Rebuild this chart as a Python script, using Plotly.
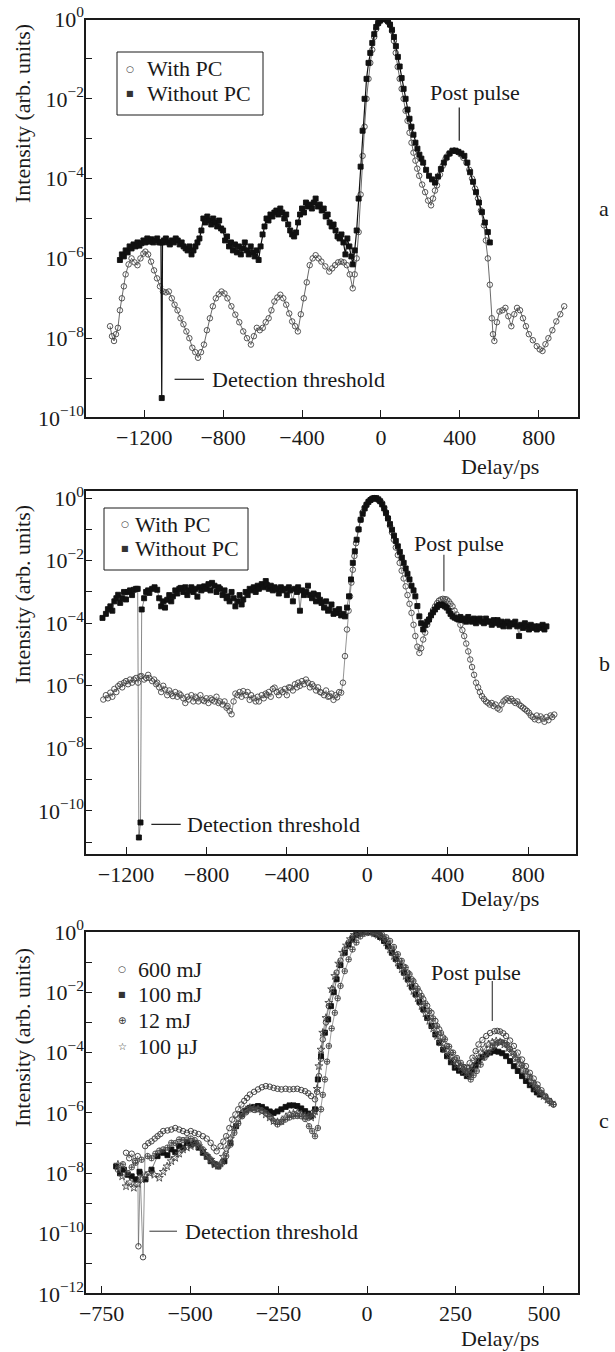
import plotly.graph_objects as go

# ---------------- data (delay in ps, intensity as log10 exponent) ----------------
a_with_x = [-1373,-1363,-1353,-1343,-1333,-1323,-1313,-1303,-1294,-1279,-1264,-1249,-1234,-1219,-1204,-1194,-1180,-1165,-1150,-1135,-1120,-1105,-1090,-1075,-1060,-1046,-1031,-1016,-1001,-986,-971,-956,-941,-927,-912,-897,-882,-867,-852,-837,-822,-808,-793,-778,-758,-738,-718,-698,-679,-659,-644,-629,-614,-599,-584,-569,-555,-540,-525,-510,-495,-480,-465,-450,-435,-421,-406,-391,-376,-361,-346,-331,-316,-302,-282,-262,-247,-232,-217,-202,-188,-173,-158,-143,-133,-123,-113,-103,-93,-83,-73,-63,-54,-44,-34,-24,-14,-4,6,16,26,36,46,56,66,75,85,95,105,115,125,135,145,155,165,175,184,194,209,224,239,254,264,274,284,299,313,328,343,358,373,388,403,418,433,448,462,477,492,507,522,532,542,552,562,568,575,588,601,616,631,646,661,676,690,705,720,735,750,770,790,805,819,834,849,869,889,909,929]
a_with_log = [-7.7,-7.95,-8.07,-7.9,-7.74,-7.3,-7.0,-6.7,-6.4,-6.15,-6.0,-6.1,-6.17,-6.0,-5.88,-5.83,-5.9,-6.08,-6.3,-6.5,-6.7,-6.83,-6.85,-6.83,-7.0,-7.16,-7.3,-7.5,-7.65,-7.83,-8.0,-8.24,-8.35,-8.49,-8.35,-8.16,-7.8,-7.5,-7.2,-7.0,-6.9,-6.83,-6.88,-7.0,-7.2,-7.41,-7.6,-7.83,-8.0,-8.16,-7.95,-7.74,-7.8,-7.74,-7.6,-7.5,-7.3,-7.08,-6.98,-6.91,-7.0,-7.16,-7.38,-7.58,-7.7,-7.83,-7.4,-7.0,-6.6,-6.17,-6.0,-5.92,-6.0,-6.08,-6.2,-6.33,-6.25,-6.17,-6.1,-6.08,-6.1,-6.17,-6.4,-6.75,-6.4,-6.0,-5.34,-4.4,-3.43,-2.7,-2.0,-1.5,-1.1,-0.77,-0.45,-0.25,-0.12,-0.04,0.0,0.0,-0.03,-0.08,-0.15,-0.3,-0.55,-0.85,-1.2,-1.5,-1.75,-2.0,-2.3,-2.55,-2.85,-3.1,-3.35,-3.55,-3.75,-3.93,-4.15,-4.34,-4.55,-4.67,-4.5,-4.3,-4.17,-3.9,-3.68,-3.5,-3.39,-3.32,-3.3,-3.32,-3.39,-3.48,-3.6,-3.78,-4.0,-4.25,-4.5,-4.8,-5.17,-5.55,-6.0,-6.66,-7.5,-7.9,-8.07,-7.6,-7.33,-7.3,-7.24,-7.45,-7.7,-7.4,-7.24,-7.3,-7.5,-7.7,-7.9,-8.05,-8.2,-8.28,-8.32,-8.15,-8.0,-7.8,-7.58,-7.4,-7.2]

a_without_x = [-1323,-1313,-1303,-1294,-1284,-1274,-1264,-1254,-1244,-1234,-1224,-1214,-1204,-1194,-1184,-1174,-1164,-1154,-1144,-1134,-1124,-1115,-1111,-1107,-1100,-1090,-1080,-1070,-1060,-1050,-1040,-1030,-1020,-1010,-1000,-990,-980,-970,-960,-950,-940,-930,-920,-910,-900,-890,-880,-870,-860,-850,-840,-830,-820,-810,-800,-790,-780,-770,-760,-750,-740,-730,-720,-710,-700,-690,-680,-670,-660,-650,-640,-630,-620,-610,-600,-590,-580,-570,-560,-550,-540,-530,-520,-510,-500,-490,-480,-470,-460,-450,-440,-430,-420,-410,-400,-390,-380,-370,-360,-350,-340,-331,-320,-310,-300,-290,-280,-270,-260,-250,-240,-230,-220,-210,-200,-190,-180,-170,-160,-150,-143,-133,-123,-113,-103,-93,-83,-73,-63,-54,-44,-34,-24,-14,-4,6,16,26,36,46,56,66,76,86,95,105,115,125,135,145,155,165,175,185,195,205,214,229,244,259,274,289,304,319,333,348,363,378,393,408,423,438,452,467,482,497,512,527,542,552]
a_without_log = [-6.04,-5.9,-5.95,-5.8,-5.85,-5.7,-5.75,-5.65,-5.7,-5.6,-5.68,-5.62,-5.55,-5.6,-5.5,-5.58,-5.52,-5.6,-5.55,-5.5,-5.6,-5.6,-9.5,-5.6,-5.55,-5.5,-5.6,-5.65,-5.55,-5.6,-5.5,-5.55,-5.65,-5.6,-5.7,-5.75,-5.8,-5.7,-5.9,-5.8,-5.7,-5.6,-5.5,-5.3,-5.0,-5.1,-4.95,-5.05,-5.15,-5.0,-5.1,-5.2,-5.05,-5.25,-5.3,-5.55,-5.45,-5.7,-5.6,-5.8,-5.65,-5.85,-5.7,-5.9,-5.75,-5.6,-5.8,-5.9,-5.7,-5.85,-5.95,-5.8,-6.04,-5.7,-5.4,-5.2,-5.0,-5.05,-4.9,-4.95,-4.85,-4.8,-4.9,-4.75,-4.85,-5.0,-4.9,-5.15,-5.3,-5.4,-5.45,-5.35,-5.1,-4.9,-4.75,-4.85,-4.6,-4.7,-4.65,-4.75,-4.6,-4.5,-4.7,-4.65,-4.8,-4.75,-4.95,-4.9,-5.1,-5.2,-5.15,-5.3,-5.45,-5.5,-5.4,-5.6,-5.9,-5.5,-5.7,-5.95,-6.15,-5.8,-5.3,-4.5,-3.7,-2.8,-2.0,-1.5,-1.1,-0.85,-0.6,-0.38,-0.2,-0.1,-0.04,0.0,0.0,0.0,-0.05,-0.14,-0.27,-0.45,-0.68,-0.95,-1.19,-1.48,-1.75,-2.0,-2.27,-2.5,-2.7,-2.9,-3.1,-3.25,-3.4,-3.5,-3.6,-3.78,-3.93,-4.02,-4.1,-3.95,-3.76,-3.6,-3.47,-3.37,-3.3,-3.3,-3.33,-3.37,-3.43,-3.6,-3.84,-4.08,-4.34,-4.6,-4.84,-5.1,-5.34,-5.6]

b_without_x = [-1317,-1300,-1290,-1278,-1268,-1258,-1248,-1239,-1229,-1219,-1210,-1200,-1190,-1180,-1170,-1161,-1150,-1142,-1136,-1128,-1122,-1110,-1100,-1090,-1084,-1070,-1058,-1045,-1035,-1025,-1015,-1006,-995,-985,-975,-967,-955,-945,-935,-928,-915,-905,-895,-889,-875,-865,-855,-845,-835,-825,-811,-800,-790,-780,-772,-760,-750,-740,-733,-720,-710,-700,-695,-685,-675,-665,-656,-645,-635,-625,-617,-605,-595,-585,-578,-565,-555,-545,-539,-525,-515,-505,-500,-490,-480,-470,-461,-450,-440,-430,-422,-410,-400,-390,-383,-370,-360,-350,-344,-335,-325,-315,-305,-295,-285,-275,-267,-255,-245,-235,-228,-215,-205,-195,-189,-178,-168,-158,-150,-140,-130,-120,-111,-101,-91,-81,-72,-62,-53,-43,-33,-23,-13,-4,6,16,25,35,45,55,64,74,84,93,103,113,123,133,142,152,162,172,181,191,200,210,220,230,239,249,259,268,278,288,298,307,317,327,337,347,356,366,376,386,395,405,414,424,434,444,453,463,473,482,492,502,512,521,531,541,551,560,570,580,590,599,609,619,629,638,648,658,668,677,687,697,706,716,726,736,746,755,765,775,784,794,804,813,823,833,843,852,862,872,881,891]
b_without_log = [-3.83,-3.7,-3.55,-3.46,-3.6,-3.3,-3.2,-3.09,-3.35,-3.2,-3.0,-3.24,-3.0,-2.95,-3.1,-2.93,-2.9,-2.9,-10.85,-10.37,-3.56,-3.2,-3.0,-2.95,-3.03,-2.9,-2.85,-2.93,-3.2,-3.46,-3.3,-3.5,-3.25,-3.1,-3.3,-3.14,-2.95,-3.05,-2.9,-2.87,-3.0,-2.85,-3.1,-2.95,-2.85,-3.0,-2.9,-3.15,-2.85,-2.95,-2.82,-2.9,-2.75,-2.95,-2.71,-2.8,-3.0,-2.85,-2.9,-3.1,-2.95,-3.2,-3.14,-3.3,-3.0,-3.2,-3.46,-3.3,-3.1,-3.4,-3.24,-3.0,-3.1,-2.9,-2.95,-2.85,-3.0,-2.8,-2.9,-2.75,-2.85,-2.65,-2.77,-2.9,-2.8,-2.95,-2.85,-2.9,-3.05,-2.85,-2.95,-2.9,-3.1,-2.85,-2.95,-3.3,-2.9,-3.0,-2.85,-3.6,-2.95,-3.1,-3.0,-2.8,-3.1,-3.2,-3.05,-3.3,-3.1,-3.25,-3.35,-3.5,-3.3,-3.6,-3.56,-3.4,-3.7,-3.6,-3.67,-3.55,-3.75,-3.7,-3.78,-3.5,-3.14,-2.6,-2.07,-1.7,-1.33,-1.0,-0.69,-0.5,-0.33,-0.21,-0.12,-0.06,-0.02,0.0,0.0,-0.04,-0.1,-0.2,-0.33,-0.48,-0.65,-0.83,-1.01,-1.2,-1.37,-1.54,-1.72,-1.9,-2.07,-2.25,-2.42,-2.6,-2.8,-2.95,-3.14,-3.45,-3.78,-4.0,-4.2,-4.05,-3.95,-3.88,-3.75,-3.65,-3.56,-3.48,-3.42,-3.4,-3.42,-3.46,-3.5,-3.6,-3.7,-3.78,-3.82,-3.85,-3.88,-3.8,-3.9,-3.85,-3.95,-3.8,-3.9,-3.95,-3.85,-4.0,-3.9,-3.85,-3.95,-4.0,-3.85,-3.95,-3.94,-4.05,-3.9,-4.0,-3.9,-4.05,-3.95,-4.1,-4.0,-3.95,-4.1,-4.0,-4.04,-3.95,-4.1,-4.41,-4.05,-4.15,-4.0,-4.1,-4.2,-4.05,-4.15,-4.1,-4.2,-4.1,-4.15,-4.05,-4.2,-4.1]

b_with_x = [-1313,-1300,-1290,-1278,-1268,-1258,-1248,-1239,-1229,-1219,-1210,-1200,-1190,-1180,-1170,-1161,-1150,-1140,-1130,-1123,-1110,-1100,-1090,-1084,-1070,-1060,-1050,-1045,-1035,-1025,-1015,-1006,-995,-985,-975,-967,-955,-945,-935,-928,-915,-905,-895,-889,-875,-865,-855,-850,-840,-830,-820,-811,-800,-790,-780,-772,-760,-750,-740,-733,-720,-710,-700,-695,-685,-675,-665,-656,-645,-635,-625,-617,-605,-595,-585,-578,-565,-555,-545,-539,-525,-515,-505,-500,-490,-480,-470,-461,-450,-440,-430,-422,-410,-400,-390,-383,-370,-360,-350,-344,-335,-325,-315,-305,-295,-285,-275,-267,-255,-245,-235,-228,-215,-205,-195,-189,-178,-168,-158,-150,-140,-130,-121,-111,-101,-93,-86,-79,-72,-64,-56,-45,-33,-23,-13,-4,6,16,25,35,45,55,64,74,84,93,103,113,123,132,142,152,161,171,181,191,200,210,220,230,239,249,259,268,278,288,298,307,317,327,337,347,356,366,376,386,395,405,414,424,434,444,453,463,473,482,492,502,512,521,531,541,551,560,570,580,590,599,609,619,628,638,648,658,668,677,687,697,706,716,726,736,746,755,765,775,784,794,804,813,823,833,843,852,862,872,881,891,901,911,920,930]
b_with_log = [-6.44,-6.3,-6.4,-6.22,-6.35,-6.1,-6.2,-6.01,-5.95,-6.05,-5.9,-5.85,-5.95,-5.8,-5.9,-5.8,-5.75,-5.9,-5.7,-5.69,-5.8,-5.75,-5.65,-5.75,-5.85,-5.8,-5.95,-5.9,-6.05,-6.2,-6.0,-6.12,-6.3,-6.15,-6.25,-6.33,-6.2,-6.35,-6.25,-6.3,-6.4,-6.55,-6.35,-6.44,-6.3,-6.5,-6.35,-6.4,-6.5,-6.3,-6.45,-6.49,-6.4,-6.55,-6.4,-6.45,-6.5,-6.35,-6.55,-6.5,-6.6,-6.5,-6.7,-6.65,-6.8,-6.91,-6.5,-6.25,-6.3,-6.2,-6.35,-6.17,-6.3,-6.2,-6.45,-6.3,-6.4,-6.5,-6.35,-6.5,-6.3,-6.4,-6.25,-6.3,-6.2,-6.35,-6.1,-6.06,-6.2,-6.3,-6.15,-6.2,-6.1,-6.3,-6.05,-6.06,-6.15,-5.95,-6.05,-5.9,-6.0,-5.85,-5.95,-5.8,-5.9,-6.05,-5.95,-6.02,-6.15,-6.05,-6.2,-6.22,-6.3,-6.15,-6.35,-6.33,-6.25,-6.45,-6.3,-6.37,-6.2,-6.22,-5.9,-5.05,-4.2,-3.6,-3.14,-2.7,-2.29,-1.85,-1.44,-1.0,-0.69,-0.45,-0.3,-0.21,-0.1,-0.05,-0.01,0.0,-0.02,-0.06,-0.1,-0.16,-0.3,-0.45,-0.64,-0.88,-1.1,-1.33,-1.58,-1.82,-2.07,-2.32,-2.57,-2.82,-3.1,-3.38,-3.67,-4.05,-4.41,-4.75,-4.95,-4.8,-4.52,-4.3,-4.05,-3.88,-3.72,-3.58,-3.46,-3.36,-3.28,-3.24,-3.22,-3.23,-3.24,-3.3,-3.38,-3.46,-3.6,-3.72,-3.88,-4.05,-4.22,-4.41,-4.65,-4.9,-5.16,-5.4,-5.65,-5.9,-6.05,-6.2,-6.33,-6.42,-6.5,-6.54,-6.6,-6.55,-6.65,-6.6,-6.72,-6.76,-6.6,-6.5,-6.44,-6.4,-6.48,-6.42,-6.49,-6.55,-6.5,-6.6,-6.65,-6.7,-6.75,-6.8,-6.86,-6.95,-7.0,-7.07,-6.95,-7.1,-6.98,-7.05,-7.15,-7.0,-7.1,-6.95,-7.0,-6.92]

c_600_x = [-681,-672,-665,-656,-648,-646,-641,-633,-627,-618,-609,-600,-592,-584,-576,-564,-553,-542,-531,-520,-509,-498,-487,-476,-464,-453,-442,-433,-425,-414,-406,-398,-389,-381,-372,-364,-355,-347,-339,-331,-319,-308,-297,-286,-275,-264,-253,-242,-230,-219,-208,-197,-186,-175,-166,-158,-147,-141,-136,-130,-125,-116,-108,-97,-86,-75,-63,-52,-41,-30,-19,-8,3,14,26,37,48,59,70,81,92,104,115,126,137,148,159,170,182,193,204,215,226,237,248,257,265,274,282,290,298,307,315,326,337,348,360,368,376,385,393,404,415,426,438,449,460,471,482,493,504,515,527]
c_600_log = [-7.32,-7.5,-7.35,-7.6,-7.43,-10.42,-8.0,-10.78,-7.1,-7.0,-6.94,-6.85,-6.77,-6.7,-6.6,-6.58,-6.55,-6.5,-6.55,-6.6,-6.66,-6.6,-6.66,-6.7,-6.77,-6.85,-6.99,-7.15,-7.27,-7.1,-6.95,-6.77,-6.5,-6.22,-6.05,-5.88,-5.72,-5.6,-5.5,-5.39,-5.3,-5.22,-5.15,-5.11,-5.13,-5.17,-5.2,-5.22,-5.2,-5.22,-5.21,-5.2,-5.24,-5.28,-5.35,-5.44,-5.55,-5.3,-4.78,-4.2,-3.56,-3.0,-2.46,-1.9,-1.35,-0.95,-0.58,-0.35,-0.19,-0.08,-0.02,0.0,0.0,0.0,-0.02,-0.1,-0.24,-0.4,-0.58,-0.77,-0.96,-1.15,-1.35,-1.57,-1.79,-2.0,-2.23,-2.45,-2.68,-2.95,-3.23,-3.5,-3.78,-4.0,-4.23,-4.35,-4.45,-4.48,-4.5,-4.35,-4.17,-3.95,-3.73,-3.58,-3.45,-3.35,-3.29,-3.28,-3.3,-3.36,-3.45,-3.6,-3.78,-4.0,-4.23,-4.45,-4.67,-4.86,-5.06,-5.25,-5.44,-5.6,-5.72]

c_100m_x = [-709,-698,-687,-676,-665,-654,-643,-626,-609,-592,-576,-564,-553,-542,-531,-520,-509,-498,-487,-476,-464,-453,-442,-431,-420,-403,-386,-370,-353,-342,-331,-319,-308,-297,-286,-275,-264,-253,-242,-230,-219,-208,-197,-186,-175,-166,-158,-147,-139,-130,-119,-110,-102,-94,-86,-75,-63,-52,-41,-30,-19,-8,3,14,26,37,48,59,70,81,92,104,115,126,137,148,159,170,182,193,204,215,226,237,248,260,271,282,290,298,307,315,326,337,348,360,371,382,393,404,415,426,438,449,460,471,480,488]
c_100m_log = [-7.77,-8.0,-7.88,-8.05,-8.1,-8.2,-7.95,-8.2,-7.88,-7.43,-7.32,-7.4,-7.21,-7.3,-7.1,-7.15,-6.99,-7.05,-7.0,-7.15,-7.32,-7.45,-7.6,-7.7,-7.77,-7.6,-6.99,-6.44,-6.05,-5.92,-5.83,-5.8,-5.77,-5.8,-5.88,-5.95,-6.0,-5.95,-5.88,-5.8,-5.75,-5.75,-5.77,-5.85,-5.94,-6.02,-6.11,-5.88,-4.89,-4.12,-3.34,-2.9,-2.46,-2.0,-1.57,-1.1,-0.69,-0.42,-0.24,-0.1,-0.03,0.0,0.0,-0.02,-0.08,-0.17,-0.3,-0.48,-0.69,-0.9,-1.13,-1.35,-1.57,-1.82,-2.07,-2.32,-2.57,-2.85,-3.12,-3.4,-3.67,-3.9,-4.12,-4.32,-4.5,-4.6,-4.67,-4.78,-4.7,-4.56,-4.42,-4.28,-4.15,-4.06,-4.0,-3.95,-3.97,-4.02,-4.12,-4.28,-4.45,-4.61,-4.78,-4.94,-5.08,-5.22,-5.32,-5.39]

c_12_x = [-704,-690,-676,-665,-654,-637,-620,-609,-598,-587,-576,-564,-553,-542,-531,-520,-509,-498,-487,-476,-464,-453,-442,-431,-420,-409,-398,-386,-375,-364,-353,-342,-331,-319,-308,-297,-286,-275,-264,-253,-242,-231,-219,-208,-197,-186,-175,-164,-155,-147,-139,-130,-125,-119,-113,-108,-100,-91,-83,-75,-63,-52,-41,-30,-19,-8,3,9,20,31,42,54,65,76,87,98,109,120,131,143,154,165,176,187,198,209,220,232,243,254,265,274,282,288,293,301,310,321,332,343,354,362,371,380,388,396,404,415,426,438,449,460,471,482,493,504,516,527]
c_12_log = [-7.88,-7.7,-7.99,-7.8,-7.65,-7.55,-7.43,-7.5,-7.35,-7.25,-7.21,-7.15,-6.99,-7.0,-6.88,-6.9,-6.88,-6.85,-6.9,-7.0,-7.21,-7.4,-7.54,-7.68,-7.77,-7.65,-7.43,-7.05,-6.66,-6.35,-6.11,-5.98,-5.88,-5.9,-5.88,-5.92,-6.0,-6.12,-6.27,-6.38,-6.3,-6.22,-6.15,-6.11,-6.1,-6.11,-6.2,-6.44,-6.6,-6.77,-6.5,-5.88,-5.4,-4.89,-4.3,-3.78,-3.2,-2.68,-2.2,-1.79,-1.3,-0.91,-0.58,-0.35,-0.15,-0.06,-0.02,0.0,0.0,-0.03,-0.08,-0.18,-0.3,-0.5,-0.74,-0.96,-1.18,-1.4,-1.63,-1.88,-2.12,-2.37,-2.62,-2.87,-3.12,-3.35,-3.56,-3.8,-4.0,-4.18,-4.34,-4.48,-4.61,-4.75,-4.89,-4.75,-4.61,-4.4,-4.17,-4.0,-3.84,-3.75,-3.67,-3.65,-3.67,-3.75,-3.89,-4.05,-4.23,-4.42,-4.61,-4.8,-5.0,-5.17,-5.33,-5.48,-5.61,-5.72]

c_100u_x = [-704,-692,-681,-670,-659,-648,-637,-626,-615,-601,-587,-576,-565,-553,-542,-531,-520,-509,-498,-487,-476,-464,-453,-442,-431,-422,-414,-406,-398,-386,-375,-364,-353,-342,-331,-319,-308,-297,-286,-275,-264,-253,-242,-230,-219,-208,-197,-186,-175,-166,-158,-152,-147,-141,-136,-130,-125,-116,-108,-100,-91,-80,-69,-58,-47,-36,-24,-13,-2,9,20,31,42,54,65,76,87,98,109,120,131,143,154,165,176,187,198,209,220,232,243,254,265,274,282,290,298,310,321,332,343,354,365,376,388,399,410,421,432,443,454,466,477,488,499,510,521]
c_100u_log = [-7.71,-8.1,-8.43,-8.3,-8.48,-8.35,-8.2,-8.1,-7.99,-8.05,-8.15,-7.95,-7.77,-7.6,-7.49,-7.35,-7.21,-7.15,-7.1,-7.05,-7.1,-7.25,-7.43,-7.55,-7.71,-7.75,-7.68,-7.45,-7.21,-6.85,-6.49,-6.2,-6.0,-5.9,-5.83,-5.85,-5.88,-5.95,-6.05,-6.15,-6.27,-6.3,-6.27,-6.15,-6.05,-6.02,-6.0,-6.05,-6.1,-6.12,-6.15,-6.05,-5.95,-5.2,-4.45,-3.9,-3.34,-2.85,-2.35,-1.9,-1.46,-1.05,-0.69,-0.45,-0.24,-0.1,-0.03,0.0,0.0,-0.02,-0.05,-0.1,-0.18,-0.35,-0.58,-0.8,-1.02,-1.24,-1.46,-1.7,-1.96,-2.2,-2.46,-2.7,-2.95,-3.2,-3.45,-3.67,-3.89,-4.1,-4.28,-4.4,-4.5,-4.6,-4.67,-4.58,-4.45,-4.22,-4.0,-3.85,-3.73,-3.66,-3.62,-3.65,-3.73,-3.85,-4.0,-4.2,-4.39,-4.58,-4.78,-4.98,-5.17,-5.32,-5.44,-5.56,-5.66]

# axis ticks and labels
ab_xticks = [-1200, -800, -400, 0, 400, 800]
ab_xtext = ["\u22121200", "\u2212800", "\u2212400", "0", "400", "800"]
c_xticks = [-750, -500, -250, 0, 250, 500]
c_xtext = ["\u2212750", "\u2212500", "\u2212250", "0", "250", "500"]
legend_ab = ["With PC", "Without PC"]
legend_c = ["600 mJ", "100 mJ", "12 mJ", "100 \u00b5J"]
legend_ab_glyphs = ["\u25cb", "\u25a0"]
legend_c_glyphs = ["\u25cb", "\u25a0", "\u2295", "\u2606"]

FONT = "Liberation Serif, Times New Roman, serif"
SYMFONT = "DejaVu Sans"
FS = 22
W, H = 615, 1352
INK = "#1a1a1a"

def px(xp):
    return xp / W

def py(yp):
    return 1 - yp / H

def to_int(logs):
    return [10 ** v for v in logs]

fig = go.Figure()

def add_series(x, logs, name, sym, size, mcol, lcol, lw, xa, ya, mlw=0.9):
    fig.add_trace(go.Scatter(
        x=x, y=to_int(logs), mode="lines+markers", name=name, showlegend=False,
        line=dict(color=lcol, width=lw),
        marker=dict(symbol=sym, size=size, color=mcol, line=dict(color=mcol, width=mlw)),
        xaxis=xa, yaxis=ya))

# panel a
add_series(a_with_x, a_with_log, legend_ab[0], "circle-open", 5.5, "#444", "#444", 0.8, "x", "y")
add_series(a_without_x, a_without_log, legend_ab[1], "square", 5, "#111", "#111", 1.2, "x", "y")
# panel b
add_series(b_with_x, b_with_log, legend_ab[0], "circle-open", 5.5, "#444", "#666", 0.7, "x2", "y2")
add_series(b_without_x, b_without_log, legend_ab[1], "square", 5, "#111", "#555", 0.7, "x2", "y2")
# panel c
add_series(c_600_x, c_600_log, legend_c[0], "circle-open", 5.5, "#333", "#666", 0.7, "x3", "y3")
add_series(c_100m_x, c_100m_log, legend_c[1], "square", 5, "#111", "#444", 0.7, "x3", "y3")
add_series(c_12_x, c_12_log, legend_c[2], "circle-cross-open", 5.5, "#444", "#777", 0.7, "x3", "y3")
add_series(c_100u_x, c_100u_log, legend_c[3], "star-open", 6, "#444", "#777", 0.7, "x3", "y3")

def yaxis_cfg(dom, rng, kmin, anchor):
    major = [k for k in range(kmin, 1) if k % 2 == 0]
    minor = [k for k in range(kmin, 1) if k % 2 != 0]
    return dict(type="log", domain=dom, range=rng, anchor=anchor,
                tickvals=[10 ** k for k in major],
                ticktext=["10<sup>%s</sup>" % (str(k).replace("-", "\u2212")) for k in major],
                minor=dict(tickvals=[10 ** k for k in minor], ticks="inside", ticklen=7,
                           tickwidth=1.3, tickcolor=INK, showgrid=False),
                ticks="inside", ticklen=7, tickwidth=1.3, tickcolor=INK, showline=False,
                showgrid=False, zeroline=False, automargin=False,
                tickfont=dict(family=FONT, size=FS, color=INK))

def xaxis_cfg(dom, rng, tv, tt, anchor):
    return dict(domain=dom, range=rng, tickvals=tv, ticktext=tt, anchor=anchor,
                ticks="inside", ticklen=8, tickwidth=1.3, tickcolor=INK, showline=False,
                showgrid=False, zeroline=False, ticklabelstandoff=4, automargin=False,
                tickfont=dict(family=FONT, size=FS, color=INK))

fig.update_layout(
    template="none",
    width=W, height=H, autosize=False, showlegend=False,
    margin=dict(l=0, r=0, t=0, b=0),
    paper_bgcolor="white", plot_bgcolor="white",
    font=dict(family=FONT, size=FS, color=INK),
    xaxis=xaxis_cfg([px(85), px(579)], [-1500, 1004], ab_xticks, ab_xtext, "y"),
    yaxis=yaxis_cfg([py(418), py(19)], [-10, 0], -10, "x"),
    xaxis2=xaxis_cfg([px(85), px(577)], [-1404, 1043], ab_xticks, ab_xtext, "y2"),
    yaxis2=yaxis_cfg([py(855), py(490)], [-11.41, 0.26], -11, "x2"),
    xaxis3=xaxis_cfg([px(85), px(579)], [-797, 599], c_xticks, c_xtext, "y3"),
    yaxis3=yaxis_cfg([py(1294), py(931)], [-12, 0.03], -12, "x3"),
)

def txt(text, xp, yp, xanchor="center", size=FS, family=FONT, angle=0, color=INK):
    return dict(text=text, x=px(xp), y=py(yp), xref="paper", yref="paper",
                xanchor=xanchor, yanchor="middle", textangle=angle, showarrow=False,
                font=dict(family=family, size=size, color=color))

ann = []
# y titles
for yc in (114, 595, 1038):
    ann.append(txt("Intensity (arb. units)", 22, yc, angle=-90))
# x titles
for yc in (466, 898, 1338):
    ann.append(txt("Delay/ps", 541, yc, xanchor="right"))
# panel letters
for lab, yc in (("a", 208), ("b", 663), ("c", 1120)):
    ann.append(txt(lab, 604, yc))

# legends (glyph + label)
leg_specs = [
    (legend_ab, legend_ab_glyphs, 130, 145, [69, 94]),
    (legend_ab, legend_ab_glyphs, 125, 133, [524, 548]),
    (legend_c, legend_c_glyphs, 122, 136, [969, 995, 1020, 1046]),
]
glyph_sizes = {"\u25cb": 9, "\u25a0": 8, "\u2295": 10, "\u2606": 10}
for labels, glyphs, gx, tx, ys in leg_specs:
    for lab, gl, yc in zip(labels, glyphs, ys):
        ann.append(txt(gl, gx, yc, size=glyph_sizes[gl], family=SYMFONT, color="#333"))
        ann.append(txt(lab, tx, yc, xanchor="left"))

# in-plot labels (log axes: annotation y in log10 units)
inplot = [
    ("Post pulse", 477, -1.85, "x", "y", "center"),
    ("Detection threshold", -867, -9.03, "x", "y", "left"),
    ("Post pulse", 458, -1.44, "x2", "y2", "center"),
    ("Detection threshold", -909, -10.43, "x2", "y2", "left"),
    ("Post pulse", 307, -1.35, "x3", "y3", "center"),
    ("Detection threshold", -520, -9.92, "x3", "y3", "left"),
]
for t, xv, yv, xr, yr, xa in inplot:
    ann.append(dict(text=t, x=xv, y=yv, xref=xr, yref=yr, xanchor=xa, yanchor="middle",
                    showarrow=False, font=dict(family=FONT, size=FS, color=INK)))
fig.update_layout(annotations=ann)

# legend boxes (panels a and b)
for x0, x1, y0, y1 in ((117, 263, 52, 115), (104, 248, 508, 570)):
    fig.add_shape(type="rect", xref="paper", yref="paper", x0=px(x0), x1=px(x1), y0=py(y1), y1=py(y0),
                  line=dict(color=INK, width=1), fillcolor="rgba(0,0,0,0)", layer="above")

# leader lines (shape positions on log axes are data values)
leaders = [
    ("x", "y", 397, 397, -2.22, -3.05, INK),
    ("x", "y", -1046, -897, -9.03, -9.03, INK),
    ("x2", "y2", 381, 381, -1.81, -2.98, "#444"),
    ("x2", "y2", -1074, -928, -10.43, -10.43, INK),
    ("x3", "y3", 354, 354, -1.63, -2.95, "#444"),
    ("x3", "y3", -615, -537, -9.92, -9.92, "#555"),
]
for xr, yr, x0, x1, y0, y1, col in leaders:
    fig.add_shape(type="line", xref=xr, yref=yr, x0=x0, x1=x1, y0=10 ** y0, y1=10 ** y1,
                  line=dict(color=col, width=1.2))

# plot frames
for xr, yr in (("x", "y"), ("x2", "y2"), ("x3", "y3")):
    fig.add_shape(type="rect", xref=xr + " domain", yref=yr + " domain", x0=0, x1=1, y0=0, y1=1,
                  line=dict(color=INK, width=2), fillcolor="rgba(0,0,0,0)", layer="above")

fig.write_html("out.html", config={"displayModeBar": False},
               post_script="document.body.style.margin='0px';document.body.style.overflow='hidden';")
